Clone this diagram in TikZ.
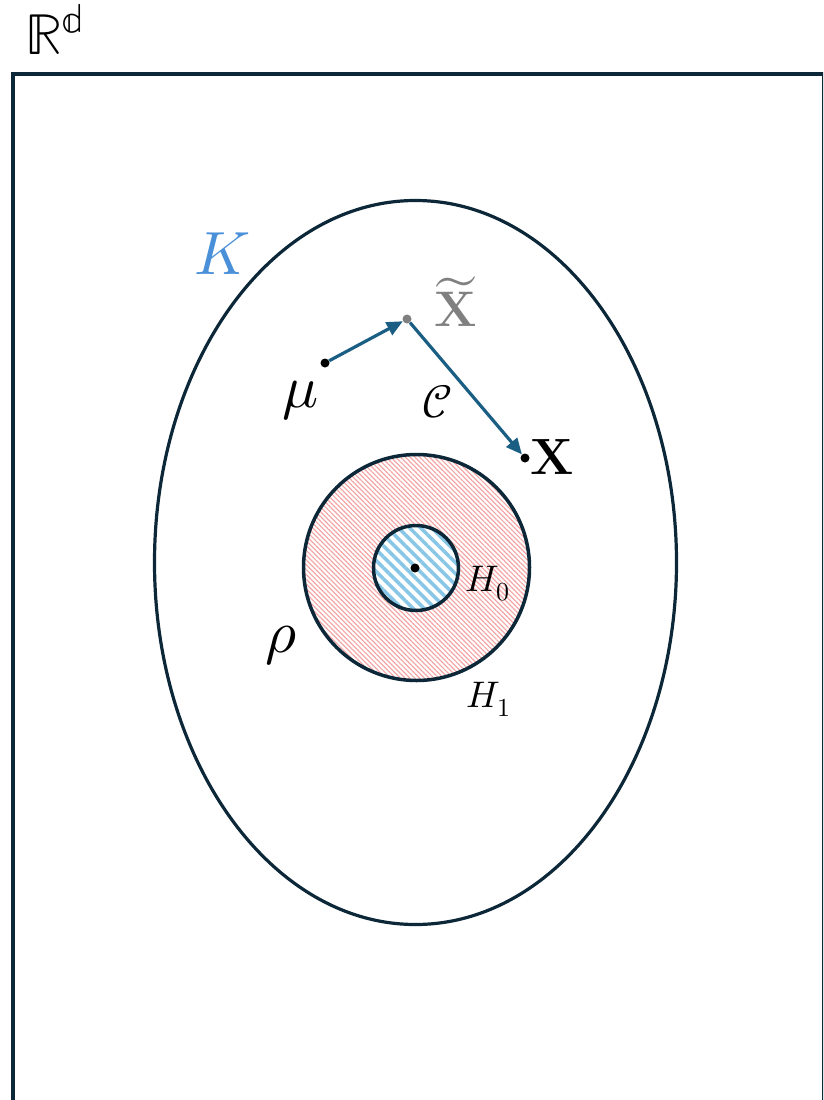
\documentclass[tikz,border=0pt]{standalone}
\usepackage{unicode-math}
\setmathfont{Latin Modern Math}
\usetikzlibrary{arrows.meta,patterns.meta}
\definecolor{navy}{HTML}{0C2738}
\definecolor{arrowblue}{HTML}{1B5E84}
\definecolor{kblue}{HTML}{4A90D9}
\definecolor{hatchred}{HTML}{F4A6A6}
\definecolor{hatchblue}{HTML}{87C6E6}
\definecolor{tgray}{HTML}{808080}
\begin{document}
\begin{tikzpicture}[x=1pt,y=-1pt,
  outline/.style={draw=navy,line width=3.5pt},
  dotmark/.style={circle,fill=black,inner sep=0pt,minimum size=9pt},
  arr/.style={draw=arrowblue,line width=3.2pt,-{Triangle[length=16pt,width=14pt]}},
  lbl/.style={inner sep=0pt}]
\useasboundingbox (0,0) rectangle (823,1100);
\begin{scope}
\clip (0,0) rectangle (823,1100);
\draw[navy,line width=4pt] (12.8,73.7) rectangle (823.8,1140);
\end{scope}
% set K
\draw[outline,line width=3.2pt] (415.5,562.5) ellipse [x radius=261, y radius=362];
% H1 region
\draw[outline,pattern={Lines[angle=-45,distance=3.4pt,line width=1.2pt]},pattern color=hatchred]
  (416.5,567.5) circle [radius=113];
% H0 region
\draw[outline,preaction={fill=white},pattern={Lines[angle=-45,distance=7.8pt,line width=3.5pt]},pattern color=hatchblue]
  (416,568) circle [radius=42.5];
% points
\node[dotmark] (c) at (415,568) {};
\node[dotmark] (mu) at (325,363) {};
\node[dotmark,fill=tgray] (xt) at (407,319) {};
\node[dotmark] (x) at (525,458) {};
% arrows
\draw[arr] (mu) -- (xt);
\draw[arr] (xt) -- (x);
% labels
\node[lbl,anchor=base west] (Rd) at (25,54) {\fontsize{58}{68}\selectfont$\mathbb{R}^{\mathbb{d}}$};
\node[lbl,text=kblue] (K) at (222,254) {\fontsize{61}{70}\selectfont$K$};
\node[lbl,text=tgray,anchor=base] (xtl) at (456,326) {\fontsize{50}{60}\selectfont$\widetilde{\mathbf{X}}$};
\node[lbl] (xl) at (552,457) {\fontsize{51}{60}\selectfont$\mathbf{X}$};
\node[lbl] (mul) at (301,401) {\fontsize{60}{70}\selectfont$\mu$};
\node[lbl] (cl) at (438,402) {\fontsize{46}{54}\selectfont$\mathcal{C}$};
\node[lbl] (rho) at (281,646) {\fontsize{60}{70}\selectfont$\rho$};
\node[lbl] (h0) at (488,584) {\fontsize{37}{44}\selectfont$H_0$};
\node[lbl] (h1) at (489,699) {\fontsize{37}{44}\selectfont$H_1$};
\end{tikzpicture}
\end{document}
